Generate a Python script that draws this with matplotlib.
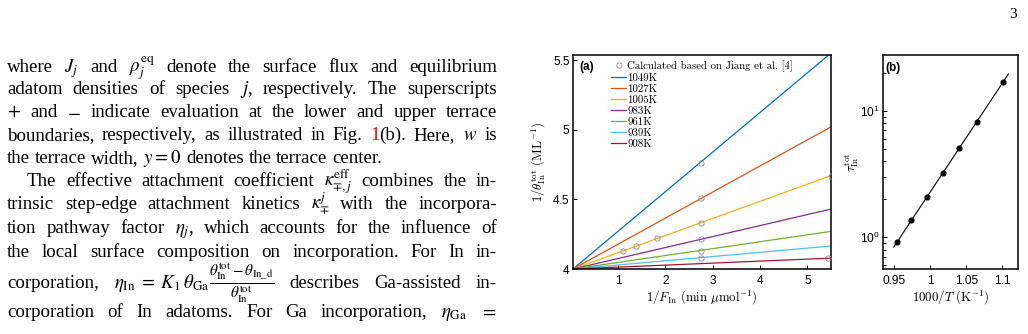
import re
import numpy as np
import matplotlib
matplotlib.use("Agg")
import matplotlib.pyplot as plt
from matplotlib.ticker import FixedLocator, FixedFormatter, LogLocator, NullFormatter

plt.rcParams['font.family'] = ['Liberation Sans', 'DejaVu Sans']
plt.rcParams['mathtext.fontset'] = 'custom'
plt.rcParams['mathtext.rm'] = 'Liberation Sans'
plt.rcParams['mathtext.it'] = 'Liberation Sans:italic'
plt.rcParams['mathtext.bf'] = 'Liberation Sans:bold'

# ---- panel (a): 1/theta vs 1/F ----
temps = [1049, 1027, 1005, 983, 961, 939, 908]
colors = ['#0072BD', '#D95319', '#EDB120', '#7E2F8E', '#77AC30', '#4DBEEE', '#A2142F']
line_x = [0.05, 5.5]
line_start = [4.0, 4.0, 4.0, 4.0, 4.0, 4.0, 4.0]
line_end = [5.55, 5.02, 4.67, 4.43, 4.27, 4.165, 4.078]
calc_x = [2.75, 2.75, 1.1, 1.38, 1.83, 2.75, 5.5, 2.75, 2.75, 2.75, 5.43]
calc_y = [4.762, 4.509, 4.131, 4.164, 4.221, 4.331, 4.669, 4.212, 4.131, 4.081, 4.076]

# ---- panel (b): tau vs 1000/T ----
tau = [0.913, 1.363, 2.073, 3.21, 5.07, 8.23, 16.87]
fit_x = [0.949, 1.109]

# ---- left column text ----
text_lines = [
    r"where $J_j$ and $\rho_j^{\rm eq}$ denote the surface flux and equilibrium",
    r"adatom densities of species $j$, respectively.  The superscripts",
    r"$+$ and $-$ indicate evaluation at the lower and upper terrace",
    r"boundaries, respectively, as illustrated in Fig. 1(b). Here, $w$ is",
    r"the terrace width, $y=0$ denotes the terrace center.",
    r"The effective attachment coefficient $\kappa^{\rm eff}_{\mp,j}$ combines the in-",
    r"trinsic step-edge attachment kinetics $\kappa^{j}_{\mp}$ with the incorpora-",
    r"tion pathway factor $\eta_j$, which accounts for the influence of",
    r"the local surface composition on incorporation.  For In in-",
    r"corporation, $\eta_{\rm In}\;=\;K_1\,\theta_{\rm Ga}$$\frac{\theta^{\rm tot}_{\rm In}-\theta_{\rm In\_d}}{\theta^{\rm tot}_{\rm In}}$ describes Ga-assisted in-",
    r"corporation of In adatoms.  For Ga incorporation, $\eta_{\rm Ga}$ $=$",
]
text_baselines = [72, 94, 117, 140, 163, 186, 209, 233, 257, 288, 317]
text_indent = [0, 0, 0, 0, 0, 20, 0, 0, 0, 0, 0]
text_justify = [True, True, True, True, False, True, True, True, True, True, True]
red_ref = "1"

W, H = 1028, 334
fig = plt.figure(figsize=(W / 100, H / 100), dpi=100)
renderer = fig.canvas.get_renderer()

def split_token(t):
    # a token may hold a red reference number or a fraction drawn a bit larger
    if t.startswith(red_ref + "(b)"):
        return [(red_ref, 'red', 1.0), (t[len(red_ref):], 'black', 1.0)]
    if '$$' in t:
        a, b = t.split('$$')
        return [(a + '$', 'black', 1.0), ('$' + b, 'black', 1.15)]
    return [(t, 'black', 1.0)]

def put_line(s, y, x0, x1, justify, fs=13.6):
    toks = re.findall(r'(?:\$[^$]*\$|[^\s$])+', s)
    pieces = []
    for t in toks:
        arts = []
        w = 0
        for txt, c, sc in split_token(t):
            a = fig.text(0, 1 - y / H, txt, color=c, fontsize=fs * sc,
                         family='Liberation Serif', math_fontfamily='stix',
                         ha='left', va='baseline')
            bw = a.get_window_extent(renderer).width
            arts.append((a, bw))
            w += bw
        pieces.append((arts, w))
    total = sum(p[1] for p in pieces)
    if justify and len(pieces) > 1:
        gap = (x1 - x0 - total) / (len(pieces) - 1)
    else:
        gap = fs * 0.25 * 100 / 72
    x = x0
    for arts, w in pieces:
        xx = x
        for a, bw in arts:
            a.set_x(xx / W)
            xx += bw
        x += w + gap

for s, y, ind, j in zip(text_lines, text_baselines, text_indent, text_justify):
    put_line(s, y, 7 + ind, 497, j)

fig.text(1013 / W, 1 - 14 / H, "3", fontsize=11, family='Liberation Serif',
         ha='center', va='center')

tick_fs = 8.6
label_fs = 9.3

# ---- axes (a) ----
ax1 = fig.add_axes([573 / W, 1 - 269 / H, 258 / W, 214 / H])
calc, = ax1.plot(calc_x, calc_y, 'o', mfc='none', mec='#8a8a8a', ms=3.8, mew=0.6,
                 zorder=3, label='Calculated based on Jiang et al. [4]')
handles = [calc]
for T, c, y0, y1 in zip(temps, colors, line_start, line_end):
    h, = ax1.plot(line_x, [y0, y1], color=c, lw=0.9, label=f"{T}K")
    handles.append(h)
ax1.set_xlim(0.05, 5.5)
ax1.set_ylim(4, 5.536)
ax1.xaxis.set_major_locator(FixedLocator([1, 2, 3, 4, 5]))
ax1.xaxis.set_major_formatter(FixedFormatter(['1', '2', '3', '4', '5']))
ax1.yaxis.set_major_locator(FixedLocator([4, 4.5, 5, 5.5]))
ax1.yaxis.set_major_formatter(FixedFormatter(['4', '4.5', '5', '5.5']))
leg = ax1.legend(handles=handles, loc='upper left', bbox_to_anchor=(0.147, 0.975),
                 frameon=False, borderpad=0, borderaxespad=0, handlelength=1.4,
                 handletextpad=0.12, labelspacing=0.13,
                 prop={'family': 'cmr10', 'size': 7.8})
ax1.text(0.023, 0.944, '(a)', transform=ax1.transAxes, fontsize=8.5, fontweight='bold',
         va='center', ha='left')
ax1.set_xlabel(r'$1/F_{\rm In}\ ({\rm min}\ \mu{\rm mol}^{-1})$', fontsize=label_fs,
               math_fontfamily='cm')
ax1.set_ylabel(r'$1/\theta_{\rm In}^{\rm tot}\ ({\rm ML}^{-1})$', fontsize=label_fs,
               math_fontfamily='cm')
ax1.xaxis.set_label_coords(0.5, -0.095)
ax1.yaxis.set_label_coords(-0.095, 0.5)

# ---- axes (b) ----
ax2 = fig.add_axes([883 / W, 1 - 269 / H, 134.7 / W, 214 / H])
inv_T = 1000 / np.array(temps)
k, b = np.polyfit(inv_T, np.log10(tau), 1)
fx = np.array(fit_x)
ax2.plot(fx, 10 ** (k * fx + b), color='black', lw=0.8)
ax2.plot(inv_T, tau, 'o', color='black', ms=3.4)
ax2.set_yscale('log')
ax2.set_xlim(0.934, 1.122)
ax2.set_ylim(0.561, 27.7)
ax2.xaxis.set_major_locator(FixedLocator([0.95, 1.0, 1.05, 1.1]))
ax2.xaxis.set_major_formatter(FixedFormatter(['0.95', '1', '1.05', '1.1']))
ax2.yaxis.set_major_locator(FixedLocator([1, 10]))
ax2.yaxis.set_major_formatter(FixedFormatter([r'$10^{0}$', r'$10^{1}$']))
ax2.yaxis.set_minor_locator(LogLocator(base=10, subs=np.arange(2, 10)))
ax2.yaxis.set_minor_formatter(NullFormatter())
ax2.text(0.015, 0.939, '(b)', transform=ax2.transAxes, fontsize=8.5, fontweight='bold',
         va='center', ha='left')
ax2.set_xlabel(r'$1000/T\ ({\rm K}^{-1})$', fontsize=label_fs, math_fontfamily='cm')
ax2.set_ylabel(r'$\tau_{\rm In}^{\rm tot}$', fontsize=label_fs, math_fontfamily='cm')
ax2.xaxis.set_label_coords(0.5, -0.095)
ax2.yaxis.set_label_coords(-0.16, 0.5)

for ax in (ax1, ax2):
    for sp in ax.spines.values():
        sp.set_linewidth(1.1)
    ax.tick_params(which='both', direction='in', top=False, right=False,
                   labelsize=tick_fs, width=0.7)
    ax.tick_params(which='major', length=3)
    ax.tick_params(which='minor', length=2)
    ax.tick_params(axis='x', pad=4.5)
    ax.tick_params(axis='y', pad=2.5)

fig.savefig('out.png', dpi=100)
